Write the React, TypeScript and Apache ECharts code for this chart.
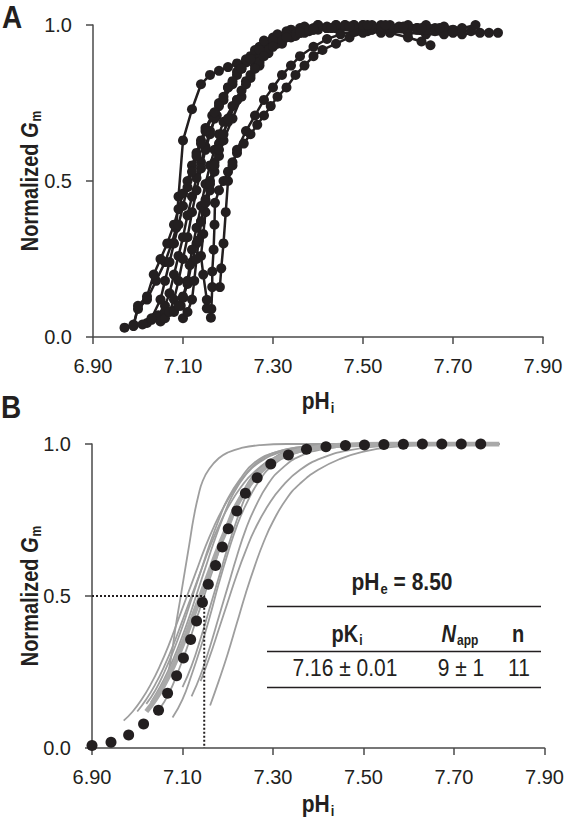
import React, { useEffect, useRef } from "react";
import * as echarts from "echarts";

// ---------- data ----------
const PH0 = 6.9; // left end of both pH axes
const xTicks = ["6.90", "7.10", "7.30", "7.50", "7.70", "7.90"];
const yTicks = ["0.0", "0.5", "1.0"];

// Panel A: individual experiments (pHi, normalized Gm)
const curveA1 = [[6.97,0.03],[6.99,0.04],[7.0,0.09],[7.02,0.12],[7.04,0.18],[7.06,0.24],[7.075,0.3],[7.085,0.35],[7.09,0.45],[7.1,0.63],[7.12,0.73],[7.14,0.81],[7.16,0.84],[7.18,0.853],[7.2,0.865],[7.22,0.877],[7.24,0.882],[7.26,0.9],[7.28,0.93],[7.3,0.95],[7.33,0.965],[7.36,0.975],[7.39,0.985],[7.42,0.99],[7.45,0.99],[7.48,0.985],[7.51,0.98],[7.54,0.975]];
const curveA2 = [[6.99,0.035],[7.0,0.1],[7.02,0.13],[7.035,0.2],[7.05,0.25],[7.065,0.3],[7.08,0.36],[7.09,0.41],[7.1,0.46],[7.11,0.5],[7.12,0.55],[7.13,0.59],[7.14,0.63],[7.15,0.67],[7.165,0.71],[7.18,0.75],[7.2,0.8],[7.22,0.84],[7.24,0.88],[7.26,0.91],[7.28,0.94],[7.31,0.96],[7.34,0.975],[7.37,0.985],[7.4,0.99],[7.44,0.99],[7.48,0.99],[7.52,0.985],[7.56,0.98],[7.6,0.975],[7.64,0.97],[7.68,0.97],[7.72,0.97],[7.76,0.975],[7.8,0.975]];
const curveA3 = [[7.02,0.045],[7.03,0.055],[7.045,0.07],[7.06,0.1],[7.07,0.14],[7.08,0.2],[7.09,0.26],[7.1,0.32],[7.11,0.39],[7.12,0.45],[7.13,0.51],[7.14,0.56],[7.15,0.61],[7.16,0.66],[7.175,0.71],[7.19,0.76],[7.21,0.81],[7.23,0.86],[7.25,0.9],[7.27,0.93],[7.3,0.96],[7.33,0.98],[7.36,0.99],[7.4,1.0],[7.44,1.0],[7.48,1.0],[7.52,0.995],[7.56,0.99],[7.6,0.99],[7.64,0.985]];
const curveA4 = [[7.04,0.065],[7.06,0.08],[7.08,0.085],[7.095,0.1],[7.1,0.125],[7.11,0.17],[7.12,0.24],[7.13,0.3],[7.14,0.37],[7.15,0.44],[7.16,0.5],[7.17,0.56],[7.18,0.62],[7.2,0.69],[7.22,0.76],[7.24,0.82],[7.26,0.87],[7.28,0.91],[7.31,0.94],[7.34,0.96],[7.37,0.975],[7.4,0.985],[7.44,0.99],[7.48,0.99],[7.52,0.985],[7.56,0.975],[7.6,0.96],[7.63,0.947],[7.65,0.935]];
const curveA5 = [[7.162,0.062],[7.163,0.09],[7.165,0.16],[7.165,0.21],[7.168,0.28],[7.17,0.36],[7.171,0.43],[7.18,0.47],[7.19,0.5],[7.2,0.53],[7.21,0.56],[7.22,0.59],[7.235,0.62],[7.25,0.65],[7.265,0.68],[7.28,0.71],[7.295,0.74],[7.31,0.77],[7.33,0.8],[7.35,0.84],[7.37,0.87],[7.39,0.9],[7.41,0.92],[7.44,0.94],[7.47,0.96],[7.5,0.975],[7.54,0.985],[7.58,0.99],[7.62,0.99],[7.66,0.985],[7.7,0.98]];
const curveA6 = [[7.182,0.16],[7.185,0.22],[7.19,0.3],[7.195,0.4],[7.2,0.5],[7.21,0.55],[7.22,0.6],[7.24,0.66],[7.26,0.71],[7.28,0.76],[7.3,0.8],[7.32,0.84],[7.34,0.87],[7.36,0.9],[7.39,0.93],[7.42,0.955],[7.45,0.97],[7.48,0.98],[7.52,0.99],[7.56,0.99],[7.6,0.99],[7.64,0.985]];
const curveA7 = [[7.153,0.092],[7.153,0.119],[7.145,0.2],[7.14,0.26],[7.145,0.33],[7.15,0.4],[7.16,0.47],[7.17,0.53],[7.18,0.58],[7.19,0.63],[7.21,0.7],[7.23,0.77],[7.25,0.83],[7.27,0.87],[7.29,0.91],[7.32,0.94],[7.35,0.965],[7.38,0.98],[7.42,0.99],[7.46,1.0],[7.5,1.0],[7.54,1.0],[7.58,0.995],[7.62,0.99],[7.66,0.99],[7.7,0.985],[7.74,0.98],[7.78,0.975]];
const curveA8 = [[7.05,0.05],[7.06,0.06],[7.07,0.08],[7.08,0.12],[7.09,0.18],[7.1,0.25],[7.11,0.32],[7.12,0.4],[7.13,0.47],[7.14,0.54],[7.15,0.6],[7.16,0.65],[7.17,0.7],[7.18,0.74],[7.2,0.8],[7.22,0.85],[7.24,0.89],[7.26,0.92],[7.28,0.95],[7.31,0.97],[7.34,0.985],[7.37,0.995],[7.4,1.0],[7.44,1.0],[7.48,1.0],[7.52,1.0],[7.56,1.0],[7.6,1.0],[7.64,1.0],[7.68,0.995],[7.72,0.99],[7.75,1.0]];
const curveA9 = [[7.08,0.08],[7.09,0.1],[7.1,0.13],[7.11,0.18],[7.115,0.23],[7.12,0.28],[7.13,0.35],[7.14,0.42],[7.15,0.49],[7.16,0.55],[7.17,0.6],[7.18,0.65],[7.19,0.69],[7.21,0.74],[7.23,0.79],[7.25,0.84],[7.27,0.88],[7.29,0.92],[7.32,0.95],[7.35,0.97],[7.38,0.985],[7.42,0.99],[7.46,0.995],[7.5,0.995],[7.54,0.99],[7.58,0.99]];
const curveA10 = [[7.01,0.04],[7.03,0.06],[7.05,0.12],[7.06,0.18],[7.07,0.24],[7.08,0.3],[7.09,0.36],[7.1,0.42],[7.11,0.48],[7.12,0.53],[7.13,0.58],[7.14,0.62],[7.15,0.66],[7.17,0.72],[7.19,0.77],[7.21,0.82],[7.23,0.86],[7.25,0.89],[7.27,0.92],[7.3,0.95],[7.33,0.97],[7.36,0.98],[7.39,0.99],[7.42,0.995],[7.46,1.0],[7.5,1.0],[7.54,0.995],[7.58,0.99],[7.62,0.985],[7.66,0.98],[7.7,0.975]];
const curveA11 = [[7.1,0.06],[7.11,0.08],[7.12,0.12],[7.125,0.18],[7.13,0.25],[7.135,0.31],[7.14,0.37],[7.15,0.43],[7.16,0.49],[7.17,0.55],[7.18,0.6],[7.19,0.65],[7.2,0.7],[7.22,0.76],[7.24,0.81],[7.26,0.86],[7.28,0.9],[7.3,0.93],[7.33,0.96],[7.36,0.975],[7.39,0.985],[7.43,0.99],[7.47,0.995],[7.51,1.0],[7.55,1.0],[7.59,0.995],[7.63,0.99],[7.67,0.99]];
const curvesA = [curveA1, curveA2, curveA3, curveA4, curveA5, curveA6, curveA7, curveA8, curveA9, curveA10, curveA11];

// Panel B: individual Hill fits (grey), mean fit (thick grey), mean curve points (dots)
const fitB1 = [[7.065,0.22],[7.075,0.3],[7.085,0.4],[7.095,0.49],[7.105,0.58],[7.115,0.67],[7.125,0.76],[7.135,0.83],[7.145,0.88],[7.16,0.92],[7.18,0.953],[7.2,0.972],[7.23,0.987],[7.27,0.996],[7.33,1.0],[7.8,1.0]];
const fitB2 = [[6.97,0.09],[6.99,0.12],[7.01,0.16],[7.03,0.21],[7.05,0.27],[7.07,0.34],[7.09,0.42],[7.11,0.5],[7.13,0.58],[7.15,0.66],[7.17,0.73],[7.19,0.79],[7.21,0.84],[7.24,0.9],[7.27,0.94],[7.31,0.97],[7.36,0.988],[7.43,0.997],[7.55,1.0],[7.8,1.0]];
const fitB3 = [[7.02,0.145],[7.04,0.19],[7.06,0.25],[7.08,0.32],[7.1,0.4],[7.12,0.49],[7.14,0.58],[7.16,0.67],[7.18,0.75],[7.2,0.82],[7.23,0.89],[7.26,0.94],[7.3,0.97],[7.35,0.988],[7.42,0.997],[7.55,1.0],[7.8,1.0]];
const fitB4 = [[7.03,0.15],[7.05,0.2],[7.07,0.26],[7.09,0.33],[7.11,0.41],[7.13,0.5],[7.15,0.59],[7.17,0.68],[7.19,0.76],[7.21,0.83],[7.24,0.9],[7.27,0.945],[7.31,0.975],[7.36,0.99],[7.44,0.998],[7.8,1.0]];
const fitB5 = [[7.078,0.1],[7.1,0.16],[7.12,0.24],[7.14,0.33],[7.16,0.43],[7.18,0.54],[7.2,0.64],[7.22,0.73],[7.24,0.8],[7.27,0.88],[7.3,0.93],[7.34,0.965],[7.39,0.985],[7.46,0.996],[7.8,1.0]];
const fitB6 = [[7.161,0.14],[7.18,0.22],[7.2,0.31],[7.22,0.41],[7.24,0.51],[7.26,0.6],[7.28,0.68],[7.3,0.745],[7.33,0.82],[7.36,0.87],[7.4,0.915],[7.45,0.952],[7.5,0.975],[7.56,0.99],[7.64,0.997],[7.8,1.0]];
const fitB7 = [[7.14,0.22],[7.16,0.3],[7.18,0.39],[7.2,0.48],[7.22,0.57],[7.24,0.65],[7.26,0.72],[7.29,0.8],[7.32,0.86],[7.36,0.915],[7.41,0.955],[7.47,0.98],[7.55,0.994],[7.65,1.0],[7.8,1.0]];
const fitB8 = [[7.05,0.13],[7.07,0.18],[7.09,0.25],[7.11,0.33],[7.13,0.42],[7.15,0.51],[7.17,0.6],[7.19,0.69],[7.21,0.77],[7.24,0.86],[7.27,0.92],[7.31,0.96],[7.36,0.985],[7.44,0.997],[7.8,1.0]];
const fitB9 = [[7.1,0.2],[7.12,0.27],[7.14,0.36],[7.16,0.46],[7.18,0.56],[7.2,0.66],[7.22,0.75],[7.24,0.83],[7.26,0.89],[7.29,0.94],[7.33,0.975],[7.38,0.99],[7.46,0.998],[7.8,1.0]];
const fitB10 = [[7.0,0.12],[7.02,0.16],[7.04,0.21],[7.06,0.27],[7.08,0.34],[7.1,0.42],[7.12,0.5],[7.14,0.58],[7.16,0.66],[7.18,0.73],[7.2,0.79],[7.23,0.86],[7.26,0.91],[7.3,0.95],[7.35,0.978],[7.42,0.993],[7.52,0.999],[7.8,1.0]];
const fitB11 = [[7.12,0.17],[7.14,0.24],[7.16,0.33],[7.18,0.43],[7.2,0.53],[7.22,0.63],[7.24,0.72],[7.26,0.79],[7.29,0.87],[7.32,0.92],[7.36,0.96],[7.42,0.985],[7.5,0.996],[7.8,1.0]];
const fitsB = [fitB1, fitB2, fitB3, fitB4, fitB5, fitB6, fitB7, fitB8, fitB9, fitB10, fitB11];
const meanFitB = [[7.02,0.12],[7.04,0.16],[7.06,0.21],[7.08,0.27],[7.1,0.34],[7.12,0.42],[7.14,0.5],[7.16,0.58],[7.18,0.66],[7.2,0.73],[7.22,0.8],[7.25,0.87],[7.28,0.92],[7.32,0.96],[7.37,0.982],[7.44,0.995],[7.55,1.0],[7.8,1.0]];
const dotsX = [6.9,6.942,6.981,7.014,7.047,7.067,7.087,7.102,7.118,7.131,7.144,7.157,7.173,7.188,7.201,7.22,7.239,7.265,7.295,7.334,7.374,7.417,7.46,7.502,7.545,7.588,7.63,7.673,7.716,7.759];
const dotsY = [0.008,0.019,0.043,0.079,0.124,0.18,0.238,0.296,0.357,0.418,0.479,0.539,0.6,0.661,0.721,0.78,0.838,0.889,0.934,0.964,0.983,0.991,0.995,0.997,0.998,0.999,1.0,1.0,1.0,1.0];
const pK = 7.148; // half-activation guide (dotted)

// table
const pHeValue = "8.50";
const pKiValue = "7.16 ± 0.01";
const NappValue = "9 ± 1";
const nValue = "11";

// ---------- styles ----------
const FONT = "'Liberation Sans', Arial, Helvetica, sans-serif";
const INK = "#231f20";
const AXIS = "#4a4a4a";
const GREY = "#9e9e9e";

const shift = (pts: number[][]) => pts.map(([x, y]) => [Math.max(0, x - PH0), y]);

function axes(gridIndex: number) {
  const x = {
    type: "value", gridIndex, min: 0, max: 1, interval: 0.2,
    axisLine: { show: true, lineStyle: { color: AXIS, width: 1.5 } },
    axisTick: { show: true, length: 7, lineStyle: { color: AXIS, width: 1.5 } },
    axisLabel: {
      color: INK, fontSize: 20, fontFamily: FONT, margin: 19,
      formatter: (v: number) => xTicks[Math.round(v / 0.2)] ?? "",
    },
    splitLine: { show: false },
  };
  const y = {
    type: "value", gridIndex, min: 0, max: 1, interval: 0.5,
    axisLine: { show: true, lineStyle: { color: AXIS, width: 1.5 } },
    axisTick: { show: true, length: 7, lineStyle: { color: AXIS, width: 1.5 } },
    axisLabel: {
      color: INK, fontSize: 20, fontFamily: FONT, margin: 21,
      formatter: (v: number) => yTicks[Math.round(v / 0.5)] ?? "",
    },
    splitLine: { show: false },
  };
  return { x, y };
}

const rich = {
  b: { fontSize: 20, fontWeight: "bold", fontFamily: FONT, fill: INK },
  bi: { fontSize: 20, fontWeight: "bold", fontStyle: "italic", fontFamily: FONT, fill: INK },
  sub: { fontSize: 12, fontWeight: "bold", fontFamily: FONT, fill: INK, padding: [11, 0, 0, 1] },
  big: { fontSize: 21, fontWeight: "bold", fontFamily: FONT, fill: INK },
  bigsub: { fontSize: 13, fontWeight: "bold", fontFamily: FONT, fill: INK, padding: [11, 0, 0, 1] },
  n: { fontSize: 21, fontFamily: FONT, fill: INK },
};

function yTitle(cy: number) {
  return {
    type: "text", x: 30, y: cy, rotation: Math.PI / 2, scaleY: 1.15,
    style: { text: "{b|Normalized }{bi|G}{sub|m}", rich, align: "center", verticalAlign: "middle" },
  };
}
function xTitle(cy: number) {
  return {
    type: "text", x: 318, y: cy, scaleY: 1.15,
    style: { text: "{big|pH}{bigsub|i}", rich, align: "center", verticalAlign: "middle" },
  };
}
function hline(y: number) {
  return { type: "line", shape: { x1: 267, y1: y, x2: 541, y2: y }, style: { stroke: INK, lineWidth: 1.5 } };
}
function cell(text: string, cx: number, cy: number) {
  return { type: "text", x: cx, y: cy, scaleY: 1.15, style: { text, rich, align: "center", verticalAlign: "middle" } };
}

export default function App() {
  const ref = useRef<HTMLDivElement>(null);
  useEffect(() => {
    if (!ref.current) return;
    const chart = echarts.init(ref.current, null, { renderer: "svg" });
    const a = axes(0);
    const b = axes(1);
    const series: any[] = [];
    curvesA.forEach((c, i) => {
      series.push({
        name: "A" + (i + 1), type: "line", xAxisIndex: 0, yAxisIndex: 0,
        data: shift(c), symbol: "circle", symbolSize: 10, showSymbol: true,
        lineStyle: { color: INK, width: 2.5 }, itemStyle: { color: INK, opacity: 1 }, z: 3,
      });
    });
    fitsB.forEach((c, i) => {
      series.push({
        name: "B" + (i + 1), type: "line", xAxisIndex: 1, yAxisIndex: 1,
        data: shift(c), smooth: 0.5, showSymbol: false, symbol: "none",
        lineStyle: { color: GREY, width: 1.8 }, z: 2,
      });
    });
    series.push({
      name: "mean fit", type: "line", xAxisIndex: 1, yAxisIndex: 1,
      data: shift(meanFitB), smooth: 0.5, symbol: "none",
      lineStyle: { color: "#a9a9a9", width: 5 }, z: 3,
    });
    series.push({
      name: "mean", type: "scatter", xAxisIndex: 1, yAxisIndex: 1,
      data: shift(dotsX.map((x, i) => [x, dotsY[i]])), symbol: "circle", symbolSize: 11,
      itemStyle: { color: INK, opacity: 1 }, clip: false, z: 5,
    });
    series.push({
      name: "pK guide", type: "line", xAxisIndex: 1, yAxisIndex: 1,
      data: shift([[PH0, 0.5], [pK, 0.5], [pK, 0]]), symbol: "none",
      lineStyle: { color: INK, width: 2, type: [2, 2] }, z: 4,
    });

    chart.setOption({
      animation: false,
      backgroundColor: "#ffffff",
      grid: [
        { left: 93, top: 25, width: 450, height: 312 },
        { left: 92, top: 444, width: 455, height: 304 },
      ],
      xAxis: [a.x, b.x],
      yAxis: [a.y, b.y],
      series,
      graphic: [
        { type: "text", x: 2, y: 2, scaleY: 1.1, style: { text: "A", font: `bold 28px ${FONT}`, fill: INK } },
        { type: "text", x: 1, y: 392, scaleY: 1.1, style: { text: "B", font: `bold 28px ${FONT}`, fill: INK } },
        yTitle(181),
        yTitle(596),
        xTitle(401),
        xTitle(804),
        cell(`{big|pH}{bigsub|e}{big| = ${pHeValue}}`, 402, 582),
        hline(606.5),
        cell("{b|pK}{sub|i}", 347, 634),
        cell("{bi|N}{sub|app}", 460, 634),
        cell("{b|n}", 518, 634),
        hline(651.5),
        cell(`{n|${pKiValue}}`, 345, 668),
        cell(`{n|${NappValue}}`, 461, 668),
        cell(`{n|${nValue}}`, 519, 668),
        hline(687.5),
      ],
    });
    return () => chart.dispose();
  }, []);
  return (
    <div
      ref={ref}
      style={{ position: "absolute", left: 0, top: 0, width: 567, height: 830, background: "#fff" }}
    />
  );
}
